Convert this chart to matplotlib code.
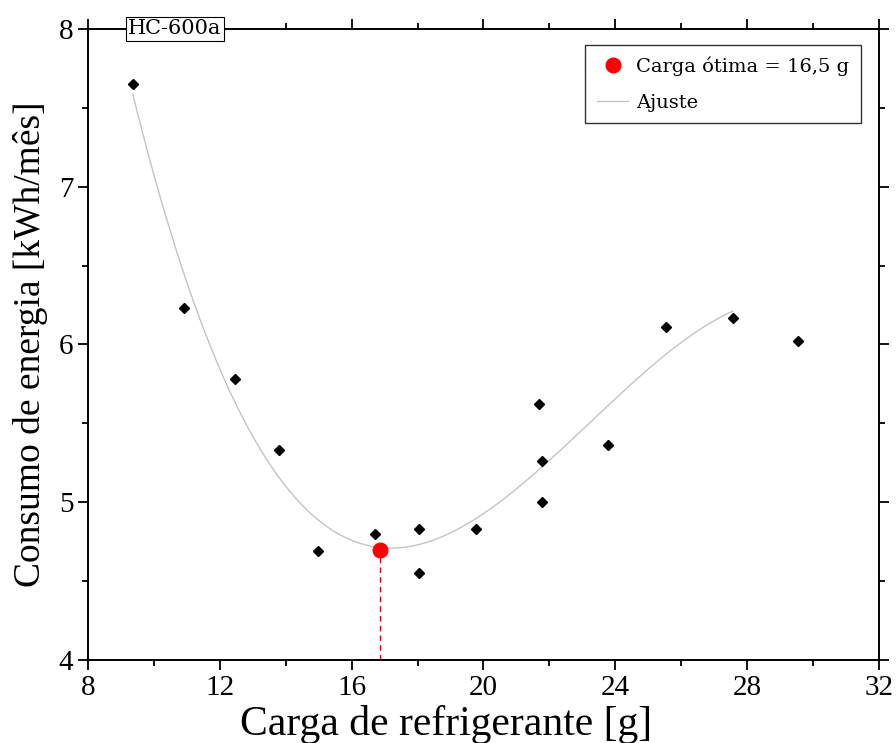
import numpy as np
import matplotlib.pyplot as plt
from matplotlib.ticker import MultipleLocator

# medidas (carga [g], consumo [kWh/mes])
carga = [9.36, 10.92, 12.46, 13.81, 14.97, 16.71, 18.04, 18.04, 19.77,
         21.69, 21.79, 21.79, 23.79, 25.54, 27.56, 29.55]
consumo = [7.65, 6.23, 5.78, 5.33, 4.69, 4.80, 4.83, 4.55, 4.83,
           5.62, 5.26, 5.00, 5.36, 6.11, 6.17, 6.02]

# ponto otimo
carga_otima = 16.86
consumo_otimo = 4.70

# ajuste cubico (sem o ultimo ponto)
coef = np.polyfit(carga[:-1], consumo[:-1], 3)
xx = np.linspace(carga[0], carga[-2], 300)

fig = plt.figure(figsize=(8.96, 7.43), dpi=100)
ax = fig.add_axes([0.0982, 0.1117, 0.8828, 0.8493])

ax.plot(xx, np.polyval(coef, xx), color='#c4c4c4', lw=1.0, label='Ajuste', zorder=2)
ax.plot(carga, consumo, 'D', color='black', ms=5.5, zorder=3)
ax.plot([carga_otima, carga_otima], [4, consumo_otimo], '--', color='#e8000b',
        lw=1.0, dashes=(4, 3), zorder=2)
ax.plot(carga_otima, consumo_otimo, 'o', color='#ff0000', ms=10.5,
        linestyle='none', label='Carga ótima = 16,5 g', zorder=4)

ax.set_xlim(8, 32)
ax.set_ylim(4, 8)
ax.xaxis.set_major_locator(MultipleLocator(4))
ax.xaxis.set_minor_locator(MultipleLocator(2))
ax.yaxis.set_major_locator(MultipleLocator(1))
ax.yaxis.set_minor_locator(MultipleLocator(0.5))
ax.tick_params(which='both', direction='out', top=True, right=True,
               labeltop=False, labelright=False, width=1.3)
ax.tick_params(which='major', length=7, labelsize=21)
ax.tick_params(which='minor', length=4)
for lab in ax.get_xticklabels() + ax.get_yticklabels():
    lab.set_family('Liberation Serif')
for s in ax.spines.values():
    s.set_linewidth(1.4)

ax.set_xlabel('Carga de refrigerante [g]', family='Liberation Serif',
              fontsize=30)
ax.xaxis.set_label_coords(0.453, -0.072, transform=ax.transAxes)
ax.set_ylabel('Consumo de energia [kWh/mês]', family='Liberation Serif',
              fontsize=27, labelpad=8)

h, l = ax.get_legend_handles_labels()
leg = ax.legend(h[::-1], l[::-1], loc='upper right', bbox_to_anchor=(0.977, 0.9746),
                prop={'family': 'DejaVu Serif', 'size': 14}, frameon=True,
                fancybox=False, edgecolor='black', handlelength=1.6,
                borderpad=0.6, labelspacing=0.9, handletextpad=0.4,
                borderaxespad=0)
leg.get_frame().set_linewidth(1.0)

ax.text(0.051, 1.0, 'HC-600a', transform=ax.transAxes, ha='left', va='center',
        family='DejaVu Serif', fontsize=15,
        bbox=dict(boxstyle='square,pad=0.12', fc='white', ec='black', lw=0.8),
        zorder=5)

fig.savefig('out.png', dpi=100)
